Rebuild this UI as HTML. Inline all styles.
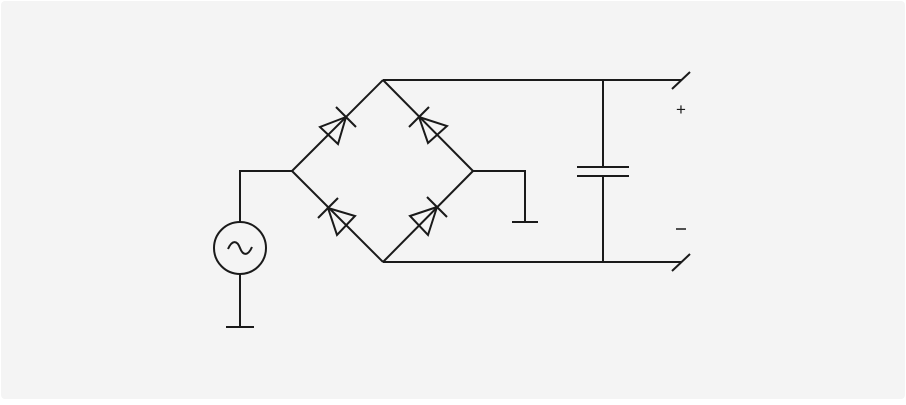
<!DOCTYPE html>
<html><head><meta charset="utf-8"><style>html,body{margin:0;padding:0;background:#fff}</style></head>
<body>
<svg width="906" height="400" xmlns="http://www.w3.org/2000/svg">
<rect x="0" y="0" width="906" height="400" fill="#ffffff"/>
<rect x="1" y="1" width="904" height="398" rx="4" fill="#f4f4f4"/>
<g stroke="#1a1a1a" stroke-width="2" fill="none" stroke-linecap="butt">
<line x1="383" y1="80" x2="681" y2="80"/>
<line x1="383" y1="262" x2="681" y2="262"/>
<line x1="672" y1="89" x2="690" y2="72"/>
<line x1="672" y1="271" x2="690" y2="254"/>
<line x1="603" y1="80" x2="603" y2="167"/>
<line x1="603" y1="176" x2="603" y2="262"/>
<line x1="577" y1="167" x2="629" y2="167"/>
<line x1="577" y1="176" x2="629" y2="176"/>
<polyline points="473,171 525,171 525,222"/>
<line x1="512" y1="222" x2="538" y2="222"/>
<polyline points="292,171 240,171 240,222"/>
<circle cx="240" cy="248" r="26"/>
<path d="M228,249 C232,240 237,240 240,248 C243,256 248,256 252,247"/>
<line x1="240" y1="274" x2="240" y2="327"/>
<line x1="226" y1="327" x2="254" y2="327"/>
<polygon points="346,117 320,127 338,144" fill="#f4f4f4"/>
<line x1="336" y1="107" x2="356" y2="127"/>
<polygon points="419,117 447,126 428,143" fill="#f4f4f4"/>
<line x1="409" y1="127" x2="429" y2="107"/>
<polygon points="328,208 355,216 337,235" fill="#f4f4f4"/>
<line x1="318" y1="218" x2="338" y2="198"/>
<polygon points="437,207 410,216 428,235" fill="#f4f4f4"/>
<line x1="427" y1="197" x2="447" y2="217"/>
<line x1="383" y1="80" x2="292" y2="171"/>
<line x1="383" y1="80" x2="473" y2="171"/>
<line x1="383" y1="262" x2="292" y2="171"/>
<line x1="383" y1="262" x2="473" y2="171"/>
</g>
<text x="681" y="115" font-family="Liberation Sans, sans-serif" font-size="17" text-anchor="middle" fill="#1a1a1a">+</text>
<line x1="676" y1="229" x2="686" y2="229" stroke="#1a1a1a" stroke-width="1.5"/>
</svg>
</body></html>
